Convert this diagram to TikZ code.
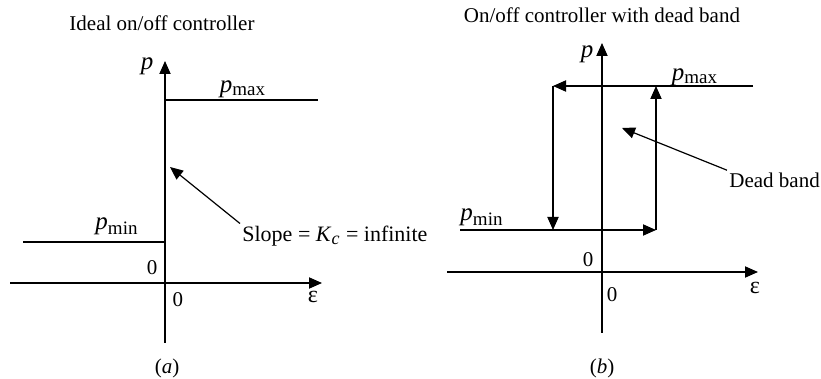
\documentclass[tikz,border=0pt]{standalone}
\usepackage{fontspec}
\setmainfont{Liberation Serif}
\usetikzlibrary{arrows.meta}

\newcommand{\pvar}{{\fontsize{12.5}{14}\selectfont\textit{p}}}
\newcommand{\psub}[1]{\pvar\textsubscript{\fontsize{9.5}{10}\selectfont #1}}

\begin{document}
\begin{tikzpicture}[
  x=0.5pt, y=-0.5pt,
  font=\fontsize{10.5}{12}\selectfont,
  >={Triangle[length=6.5pt, width=5.6pt]},
  axis/.style={line width=0.6pt},
  level/.style={line width=0.6pt},
  lbl/.style={inner sep=1pt},
]
\useasboundingbox (0,0) rectangle (821,379);

% (a) ideal on/off controller
\node (titleA) at (162,23) {Ideal on/off controller};
\coordinate (aPbot) at (165,343);
\coordinate (aPtop) at (165,61);
\coordinate (aEleft) at (10,283);
\coordinate (aEright) at (322,283);
\coordinate (aMaxL) at (165,100);
\coordinate (aMaxR) at (318,100);
\coordinate (aMinL) at (23,242);
\coordinate (aMinR) at (165,242);
\coordinate (aSlopeTip) at (170,167);
\draw[axis, ->] (aPbot) -- (aPtop);
\draw[axis, ->] (aEleft) -- (aEright);
\draw[level] (aMaxL) -- (aMaxR);
\draw[level] (aMinL) -- (aMinR);
\node[lbl] (aP) at (147,66) {\pvar};
\node[lbl] (aPmax) at (243,89) {\psub{max}};
\node[lbl] (aPmin) at (117,226) {\psub{min}};
\node[lbl] (aZeroP) at (152,268) {0};
\node[lbl] (aZeroE) at (178,300) {0};
\node[lbl] (aEps) at (313,297) {\fontsize{12}{14}\selectfont ε};
\node[lbl, anchor=west, font=\fontsize{11}{13}\selectfont] (aSlope) at (240,236)
  {Slope = \textit{K}\textsubscript{\fontsize{9}{10}\selectfont\textit{c}} = infinite};
\draw[line width=0.6pt, ->] (aSlope.north west) -- (aSlopeTip);
\node (capA) at (167,368) {(\textit{a})};

% (b) on/off controller with dead band
\node (titleB) at (602,15) {On/off controller with dead band};
\coordinate (bPbot) at (602,333);
\coordinate (bPtop) at (602,43);
\coordinate (bEleft) at (447,272);
\coordinate (bEright) at (758,272);
\coordinate (bMinL) at (460,230);
\coordinate (bMaxR) at (753,86);
\coordinate (bUL) at (553,86);
\coordinate (bLL) at (553,230);
\coordinate (bUR) at (656,86);
\coordinate (bLR) at (656,230);
\coordinate (bBandTip) at (622,128);
\draw[axis, ->] (bPbot) -- (bPtop);
\draw[axis, ->] (bEleft) -- (bEright);
\draw[level, ->] (bMinL) -- (bLR);
\draw[level, ->] (bLR) -- (bUR);
\draw[level, ->] (bMaxR) -- (bUL);
\draw[level, ->] (bUL) -- (bLL);
\node[lbl] (bP) at (587,54) {\pvar};
\node[lbl] (bPmax) at (695,77) {\psub{max}};
\node[lbl] (bPmin) at (482,217) {\psub{min}};
\node[lbl] (bZeroP) at (588,260) {0};
\node[lbl] (bZeroE) at (612,295) {0};
\node[lbl] (bEps) at (755,288) {\fontsize{12}{14}\selectfont ε};
\node[lbl, anchor=west] (bBand) at (727,180) {Dead band};
\draw[line width=0.6pt, ->] (bBand.north west) -- (bBandTip);
\node (capB) at (602,368) {(\textit{b})};
\end{tikzpicture}
\end{document}
